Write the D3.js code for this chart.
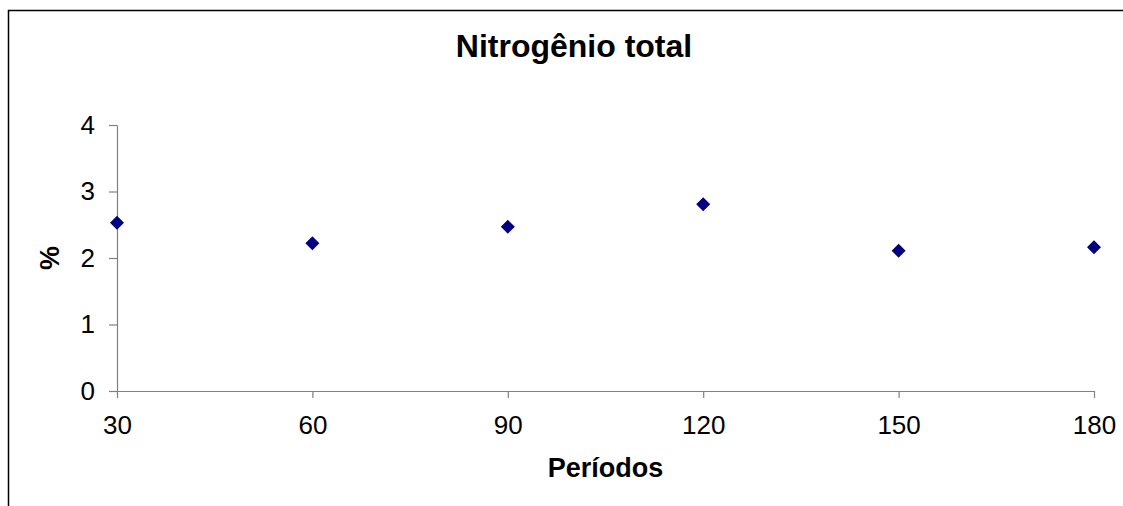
<!DOCTYPE html>
<html>
<head>
<meta charset="utf-8">
<script src="https://cdn.jsdelivr.net/npm/d3@7"></script>
<style>
  body { margin: 0; background: #fff; }
  text { font-family: "Liberation Sans", Arial, sans-serif; fill: #000; }
</style>
</head>
<body>
<div id="chart"></div>
<script>
// data
var periods = [30, 60, 90, 120, 150, 180];
var nitrogen = [2.53, 2.22, 2.47, 2.81, 2.11, 2.16];
var yTicks = [0, 1, 2, 3, 4];
var titleText = "Nitrogênio total";
var xLabel = "Períodos";
var yLabel = "%";

var width = 1123, height = 506;
var margin = {left: 117, right: 29, top: 125, bottom: 115};

var svg = d3.select("div#chart")
  .append("svg")
  .attr("width", width)
  .attr("height", height);

// chart frame (cut off at the right and bottom)
svg.append("rect")
  .attr("x", 8.5).attr("y", 10.5)
  .attr("width", 1130).attr("height", 520)
  .attr("fill", "none")
  .attr("stroke", "#000")
  .attr("stroke-width", 1.5);

var xScale = d3.scaleLinear()
  .domain([30, 180])
  .range([margin.left, width - margin.right]);

var yScale = d3.scaleLinear()
  .domain([0, 4])
  .range([height - margin.bottom, margin.top]);

var axisColor = "#808080";

var xAxis = d3.axisBottom(xScale)
  .tickValues(periods)
  .tickFormat(d3.format("d"))
  .tickSize(7)
  .tickSizeOuter(0)
  .tickPadding(18);

var yAxis = d3.axisLeft(yScale)
  .tickValues(yTicks)
  .tickFormat(d3.format("d"))
  .tickSize(8)
  .tickSizeOuter(0)
  .tickPadding(14);

var gx = svg.append("g")
  .attr("transform", "translate(0," + yScale(0) + ")")
  .call(xAxis);

var gy = svg.append("g")
  .attr("transform", "translate(" + xScale(30) + ",0)")
  .call(yAxis);

[gx, gy].forEach(function(g) {
  g.selectAll("path, line").attr("stroke", axisColor).attr("stroke-width", 1.2);
  g.selectAll("text")
    .attr("fill", "#000")
    .style("font-family", "'Liberation Sans', Arial, sans-serif")
    .style("font-size", "26px");
});

// markers
svg.selectAll(".dot")
  .data(periods)
  .enter()
  .append("path")
  .attr("class", "dot")
  .attr("d", d3.symbol().type(d3.symbolDiamond2).size(125))
  .attr("transform", function(d, i) {
    return "translate(" + xScale(d) + "," + yScale(nitrogen[i]) + ")";
  })
  .attr("fill", "#000080");

// titles
svg.append("text")
  .attr("x", 574).attr("y", 57)
  .attr("text-anchor", "middle")
  .style("font-size", "32px")
  .style("font-weight", "bold")
  .text(titleText);

svg.append("text")
  .attr("x", (xScale.range()[0] + xScale.range()[1]) / 2)
  .attr("y", 477)
  .attr("text-anchor", "middle")
  .style("font-size", "27px")
  .style("font-weight", "bold")
  .text(xLabel);

svg.append("text")
  .attr("transform", "translate(59," + yScale(2) + ") rotate(-90)")
  .attr("text-anchor", "middle")
  .style("font-size", "27px")
  .style("font-weight", "bold")
  .text(yLabel);
</script>
</body>
</html>
